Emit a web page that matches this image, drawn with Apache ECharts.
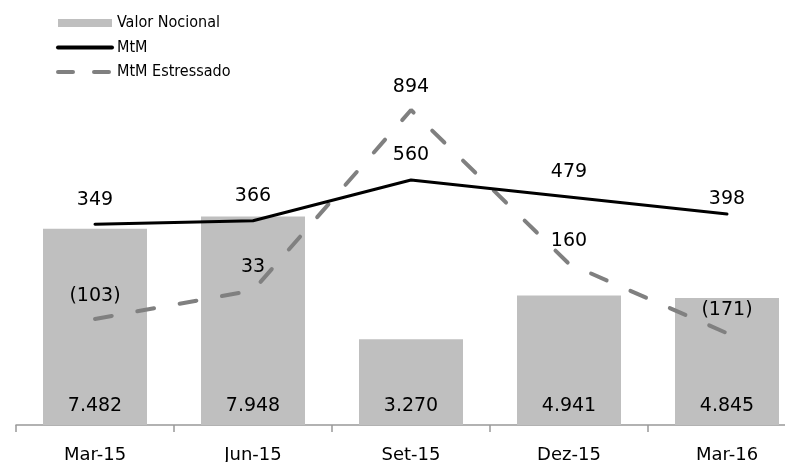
<!DOCTYPE html>
<html><head><meta charset="utf-8">
<script src="https://cdn.jsdelivr.net/npm/echarts@6/dist/echarts.min.js"></script>
<style>html,body{margin:0;padding:0;background:#fff}#c{width:785px;height:462px}</style>
</head><body><div id="c"></div>
<script>
const categories = ['Mar-15', 'Jun-15', 'Set-15', 'Dez-15', 'Mar-16'];
const valorNocional = [7482, 7948, 3270, 4941, 4845];
const mtm = [349, 366, 560, 479, 398];
const mtmEstressado = [-103, 33, 894, 160, -171];

const FONT = 'DejaVu Sans';
const fmtThousands = v => String(v).replace(/\B(?=(\d{3})+(?!\d))/g, '.');
const fmtParen = v => v < 0 ? '(' + (-v) + ')' : String(v);

const chart = echarts.init(document.getElementById('c'), null, { renderer: 'canvas' });
chart.setOption({
  animation: false,
  backgroundColor: '#ffffff',
  legend: {
    orient: 'vertical',
    left: 51,
    top: 10,
    itemWidth: 54,
    itemHeight: 8,
    itemGap: 8.5,
    itemStyle: { borderWidth: 0 },
    textStyle: { fontFamily: 'DejaVu Sans Condensed', fontSize: 16, color: '#000', lineHeight: 16 },
    data: [
      { name: 'Valor Nocional', icon: 'rect' },
      { name: 'MtM', itemStyle: { opacity: 0 }, lineStyle: { width: 4 } },
      { name: 'MtM Estressado', itemStyle: { opacity: 0 }, lineStyle: { width: 4, type: [15, 21] } }
    ]
  },
  grid: { left: 16, width: 790, top: 105, height: 320, outerBoundsMode: 'none', containLabel: false },
  xAxis: {
    type: 'category',
    data: categories,
    axisLine: { lineStyle: { color: '#999999', width: 1.5 } },
    axisTick: { show: true, length: 7, lineStyle: { color: '#999999', width: 1.5 } },
    axisLabel: { fontFamily: FONT, fontSize: 18, color: '#000', margin: 21 },
    splitLine: { show: false }
  },
  yAxis: [
    { type: 'value', min: 0, max: 12200, show: false, splitLine: { show: false } },
    { type: 'value', min: -609, max: 918, show: false, splitLine: { show: false } }
  ],
  series: [
    {
      name: 'Valor Nocional',
      type: 'bar',
      yAxisIndex: 0,
      barWidth: 104,
      itemStyle: { color: '#bfbfbf' },
      label: {
        show: true, position: 'insideBottom', distance: 9,
        fontFamily: FONT, fontSize: 19, color: '#000',
        formatter: p => fmtThousands(p.value)
      },
      data: valorNocional,
      z: 1
    },
    {
      name: 'MtM',
      type: 'line',
      yAxisIndex: 1,
      symbol: 'circle',
      symbolSize: 1,
      showSymbol: true,
      lineStyle: { color: '#000000', width: 3, cap: 'round' },
      itemStyle: { color: 'rgba(0,0,0,0)' },
      label: {
        show: true, position: 'top', distance: 14.5,
        fontFamily: FONT, fontSize: 19, color: '#000',
        formatter: p => fmtParen(p.value)
      },
      data: mtm.map((v, i) => i === mtm.length - 1 ? { value: v, label: { distance: 4.5 } } : v),
      z: 3
    },
    {
      name: 'MtM Estressado',
      type: 'line',
      yAxisIndex: 1,
      symbol: 'circle',
      symbolSize: 1,
      showSymbol: true,
      lineStyle: { color: '#808080', width: 4, type: [17, 26], cap: 'round' },
      itemStyle: { color: 'rgba(0,0,0,0)' },
      label: {
        show: true, position: 'top', distance: 13,
        fontFamily: FONT, fontSize: 19, color: '#000',
        formatter: p => fmtParen(p.value)
      },
      data: mtmEstressado,
      z: 2
    }
  ]
});
</script>
</body></html>
